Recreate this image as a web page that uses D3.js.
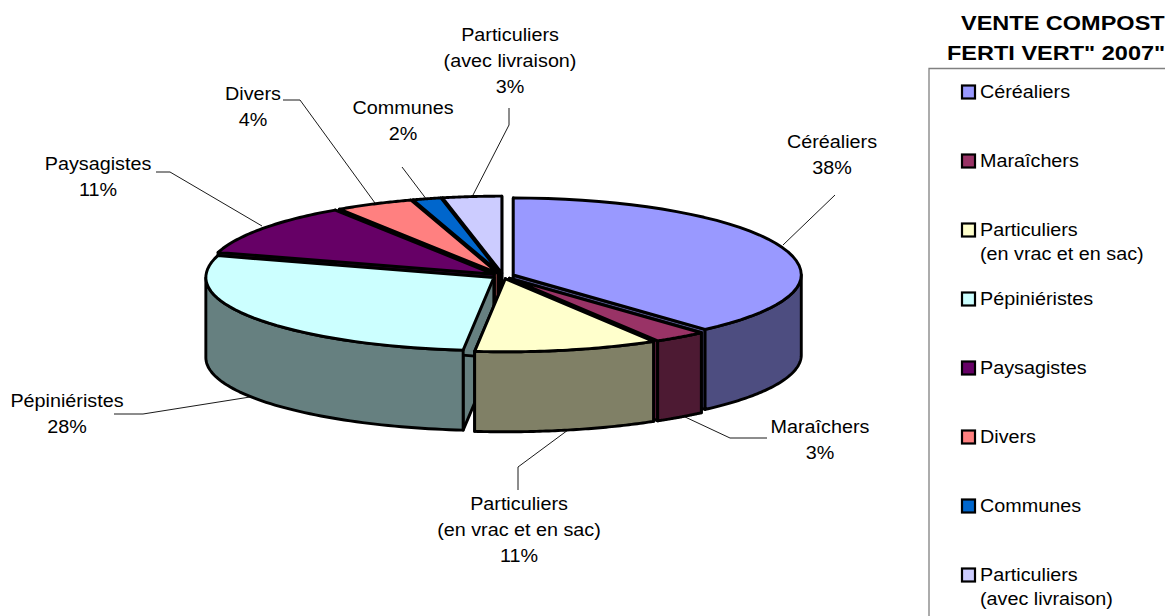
<!DOCTYPE html>
<html><head><meta charset="utf-8">
<script src="https://cdn.jsdelivr.net/npm/d3@7"></script>
<style>html,body{margin:0;background:#fff}svg{display:block}text{font-family:"Liberation Sans",Arial,sans-serif;fill:#000}</style>
</head><body><div id="c"></div>
<script>
const categories=["Céréaliers","Maraîchers","Particuliers|(en vrac et en sac)","Pépiniéristes","Paysagistes","Divers","Communes","Particuliers|(avec livraison)"];
const shares=[38.4,3.0,10.3,27.9,11.1,4.4,1.6,3.3];
const labels=["38%","3%","11%","28%","11%","4%","2%","3%"];
const topColors=["#9999FF","#993366","#FFFFCC","#CCFFFF","#660066","#FF8080","#0066CC","#CCCCFF"];
const wallColors=["#4D4D80","#4D1A33","#808066","#668080","#330033","#804040","#003366","#666680"];
const drawOrder=[7,6,5,4,0,3,1,2];

const W=1165,H=616;
const svg=d3.select("#c").append("svg").attr("width",W).attr("height",H);
const cx=503,cy=276,rx=288,ryBack=77,ryFront=73,depth=80,explode=11,fs=17.5,sx=1.13;

const arcs=d3.pie().sort(null).value(d=>d)(shares);
const pt=(a,ox,oy,r=1,dz=0)=>{const c=Math.cos(a),s=Math.sin(a);
  return [ox+s*rx*r, oy-c*(c>0?ryBack:ryFront)*r+dz];};
const line=d3.line();
const g=svg.append("g").attr("stroke","#000").attr("stroke-width",2.9).attr("stroke-linejoin","round");

drawOrder.forEach(i=>{
  const a=arcs[i],mid=(a.startAngle+a.endAngle)/2;
  const ox=cx+Math.sin(mid)*explode, oy=cy-Math.cos(mid)*explode*0.26;
  const A=d3.range(0,41).map(k=>a.startAngle+(a.endAngle-a.startAngle)*k/40);
  const face=t=>{const e=pt(t,ox,oy);return line([[ox,oy],e,[e[0],e[1]+depth],[ox,oy+depth]])+"Z";};
  g.append("path").attr("d",face(a.startAngle)).attr("fill",wallColors[i]);
  g.append("path").attr("d",face(a.endAngle)).attr("fill",wallColors[i]);
  const lo=Math.max(a.startAngle,Math.PI/2),hi=Math.min(a.endAngle,3*Math.PI/2);
  if(hi>lo){
    const B=d3.range(0,61).map(k=>lo+(hi-lo)*k/60);
    const up=B.map(t=>pt(t,ox,oy)),dn=B.map(t=>pt(t,ox,oy,1,depth)).reverse();
    g.append("path").attr("d",line(up.concat(dn))+"Z").attr("fill",wallColors[i]);
  }
  g.append("path").attr("d",line([[ox,oy]].concat(A.map(t=>pt(t,ox,oy))))+"Z").attr("fill",topColors[i]);
});

// leader lines
const leaders=[
 [[835,195],[783,245]],
 [[767,438],[730,438],[683,416]],
 [[518,490],[518,467],[568,430]],
 [[114,414],[143,414],[250,397]],
 [[156,172],[170,172],[262,226]],
 [[283,100],[300,100],[375,203]],
 [[402,167],[427,200]],
 [[509,108],[509,125],[472,197]]];
const lg=svg.append("g").attr("fill","none").attr("stroke","#000").attr("stroke-width",0.9);
leaders.forEach(p=>lg.append("path").attr("d",line(p)));

function txt(x,y,str,anchor="middle",size=fs,weight="normal"){
  svg.append("text").attr("transform",`translate(${x},${y}) scale(${sx},1)`)
    .attr("text-anchor",anchor).attr("font-size",size).attr("font-weight",weight).text(str);
}
const labelAt=[[832,148],[820,433],[519,510],[67,407],[98,170],[253,100],[403,114],[510,41]];
categories.forEach((c,i)=>{
  const lines=c.split("|").concat(labels[i]);
  lines.forEach((l,k)=>txt(labelAt[i][0],labelAt[i][1]+k*26,l));
});

// legend
svg.append("path").attr("d",line([[1165,68.5],[929,68.5],[929,616]])).attr("fill","none").attr("stroke","#808080").attr("stroke-width",1.3);
const legY=d3.scaleLinear().domain([0,7]).range([92,575]);
categories.forEach((c,i)=>{
  const y=legY(i);
  svg.append("rect").attr("x",962).attr("y",y-6.5).attr("width",13).attr("height",13)
    .attr("fill",topColors[i]).attr("stroke","#000").attr("stroke-width",2.2);
  c.split("|").forEach((l,k)=>txt(980,y+6+k*24,l,"start"));
});
txt(961,30,"VENTE COMPOST","start",20.8,"bold");
txt(947,60,'FERTI VERT" 2007"',"start",20.8,"bold");
</script></body></html>
